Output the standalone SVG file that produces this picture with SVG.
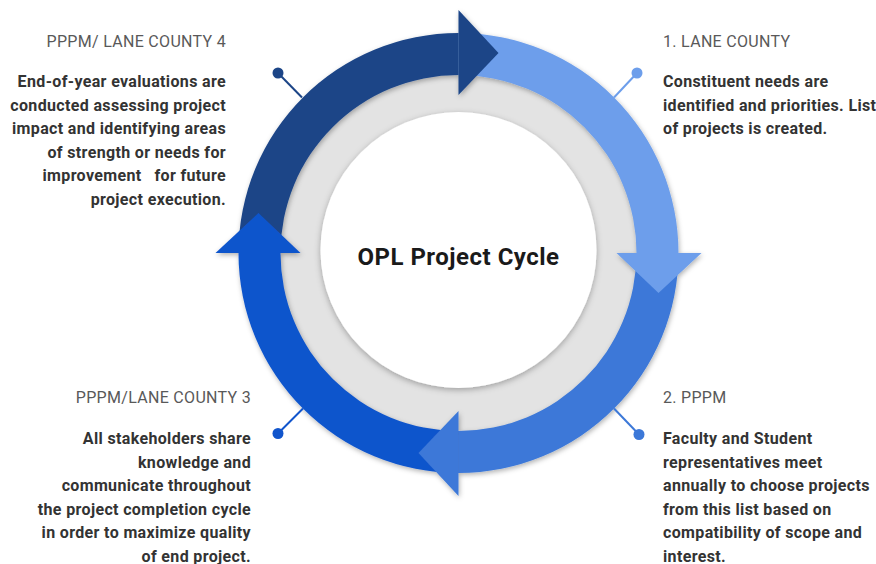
<svg xmlns="http://www.w3.org/2000/svg" width="876" height="564" viewBox="0 0 876 564">
  <defs>
    <filter id="ringShadow" x="-10%" y="-10%" width="120%" height="120%">
      <feDropShadow dx="1" dy="2" stdDeviation="2.5" flood-color="#000" flood-opacity="0.3"/>
    </filter>
    <filter id="discShadow" x="-10%" y="-10%" width="120%" height="120%">
      <feDropShadow dx="0" dy="2" stdDeviation="3" flood-color="#000" flood-opacity="0.3"/>
    </filter>
    <style>
      .head { font-family: Roboto, "Liberation Sans", sans-serif; font-size: 16px; letter-spacing: 0.3px; fill: #595959; }
      .body { font-family: Roboto, "Liberation Sans", sans-serif; font-size: 16px; letter-spacing: 0.35px; font-weight: 700; fill: #333333; white-space: pre; }
      .title { font-family: Roboto, "Liberation Sans", sans-serif; font-size: 24px; letter-spacing: 0.5px; font-weight: 700; fill: #1a1a1a; }
      .c1 { fill: #6d9eeb; }
      .c2 { fill: #3c78d8; }
      .c3 { fill: #1155cc; }
      .c4 { fill: #1c4587; }
      .lead { stroke-width: 2; }
    </style>
  </defs>
  <rect width="876" height="564" fill="#ffffff"/>

  <!-- hub: grey disc with raised white centre -->
  <g id="hub">
    <circle cx="458.5" cy="253" r="182" fill="#e3e3e3"/>
    <circle cx="458.5" cy="250" r="138" fill="#ffffff" filter="url(#discShadow)"/>
    <text class="title" x="458.5" y="265" text-anchor="middle">OPL Project Cycle</text>
  </g>

  <!-- cycle ring: four quarter arcs, heads drawn last so each overlaps the next arc -->
  <g id="connectors" filter="url(#ringShadow)">
    <path class="c1" d="M458.5,33 A220,220 0 0 1 678.5,253 L636.5,253 A178,178 0 0 0 458.5,75 Z"/>
    <path class="c2" d="M678.5,253 A220,220 0 0 1 458.5,473 L458.5,431 A178,178 0 0 0 636.5,253 Z"/>
    <path class="c3" d="M458.5,473 A220,220 0 0 1 238.5,253 L280.5,253 A178,178 0 0 0 458.5,431 Z"/>
    <path class="c4" d="M238.5,253 A220,220 0 0 1 458.5,33 L458.5,75 A178,178 0 0 0 280.5,253 Z"/>
    <polygon class="c1" points="616.5,253 701.5,253 658.5,293"/>
    <polygon class="c2" points="458.5,411 458.5,496 418.5,453"/>
    <polygon class="c3" points="300.5,253 215.5,253 258.5,213"/>
    <polygon class="c4" points="458.5,95 458.5,10 498.5,53"/>
  </g>

  <!-- step 1 -->
  <g id="step1">
    <line class="lead" x1="614" y1="97.5" x2="637" y2="73" stroke="#6d9eeb"/>
    <circle cx="637" cy="73" r="5.5" fill="#6d9eeb"/>
    <text class="head" x="663" y="47">1. LANE COUNTY</text>
    <text class="body" x="663" y="87">Constituent needs are</text>
    <text class="body" x="663" y="110.5">identified and priorities. List</text>
    <text class="body" x="663" y="134">of projects is created.</text>
  </g>

  <!-- step 2 -->
  <g id="step2">
    <line class="lead" x1="614" y1="408.5" x2="639" y2="434.5" stroke="#3c78d8"/>
    <circle cx="639" cy="434.5" r="5.5" fill="#3c78d8"/>
    <text class="head" x="663" y="403">2. PPPM</text>
    <text class="body" x="663" y="444">Faculty and Student</text>
    <text class="body" x="663" y="467.5">representatives meet</text>
    <text class="body" x="663" y="491">annually to choose projects</text>
    <text class="body" x="663" y="514.5">from this list based on</text>
    <text class="body" x="663" y="538">compatibility of scope and</text>
    <text class="body" x="663" y="561.5">interest.</text>
  </g>

  <!-- step 3 -->
  <g id="step3">
    <line class="lead" x1="303" y1="408.5" x2="278" y2="433.5" stroke="#1155cc"/>
    <circle cx="278" cy="433.5" r="5.5" fill="#1155cc"/>
    <text class="head" x="251" y="403" text-anchor="end">PPPM/LANE COUNTY 3</text>
    <text class="body" x="251" y="444" text-anchor="end">All stakeholders share</text>
    <text class="body" x="251" y="467.5" text-anchor="end">knowledge and</text>
    <text class="body" x="251" y="491" text-anchor="end">communicate throughout</text>
    <text class="body" x="251" y="514.5" text-anchor="end">the project completion cycle</text>
    <text class="body" x="251" y="538" text-anchor="end">in order to maximize quality</text>
    <text class="body" x="251" y="561.5" text-anchor="end">of end project.</text>
  </g>

  <!-- step 4 -->
  <g id="step4">
    <line class="lead" x1="302" y1="97.5" x2="278" y2="73" stroke="#1c4587"/>
    <circle cx="278" cy="73" r="5.5" fill="#1c4587"/>
    <text class="head" x="226" y="47" text-anchor="end">PPPM/ LANE COUNTY 4</text>
    <text class="body" x="226" y="87" text-anchor="end">End-of-year evaluations are</text>
    <text class="body" x="226" y="110.5" text-anchor="end">conducted assessing project</text>
    <text class="body" x="226" y="134" text-anchor="end">impact and identifying areas</text>
    <text class="body" x="226" y="157.5" text-anchor="end">of strength or needs for</text>
    <text class="body" x="226" y="181" text-anchor="end">improvement   for future</text>
    <text class="body" x="226" y="204.5" text-anchor="end">project execution.</text>
  </g>
</svg>
